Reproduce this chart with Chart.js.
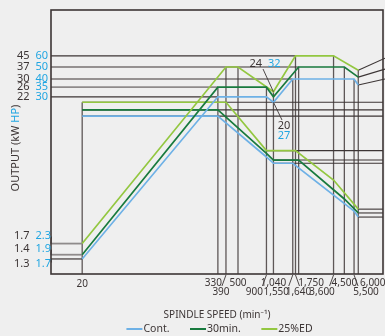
<!DOCTYPE html>
<html>
<head>
<meta charset="utf-8">
<script src="https://cdn.jsdelivr.net/npm/chart.js@4.4.1/dist/chart.umd.min.js"></script>
<style>
  html, body { margin: 0; padding: 0; background: #efefef; }
  #wrap { width: 385px; height: 336px; }
</style>
</head>
<body>
<div id="wrap"><canvas id="spindleChart"></canvas></div>
<script>
/* spindle output chart - log speed vs log output */

// rising curves: speed (min-1) / output (kW)
const contSpeed  = [20, 330, 900, 1040, 1550, 5500, 6000];
const contPower  = [1.3, 22, 22, 20, 30, 30, 27];
const min30Speed = [20, 330, 900, 1040, 1750, 4500, 6000];
const min30Power = [1.4, 26, 26, 22, 37, 37, 31];
const edSpeed    = [20, 390, 500, 1040, 1640, 3600, 6000];
const edPower    = [1.7, 37, 37, 24, 45, 45, 35];

// falling curves (torque side), read on the same output axis
const contTqSpeed  = [20, 330, 900, 1040, 1550, 5500, 6000];
const contTq       = [15.7, 15.7, 7.7, 6.9, 6.9, 3.0, 2.7];
const min30TqSpeed = [20, 330, 900, 1040, 1750, 4500, 6000];
const min30Tq      = [17.5, 17.5, 8.2, 7.3, 7.3, 3.7, 2.9];
const edTqSpeed    = [20, 390, 900, 1640, 3600, 6000];
const edTq         = [20, 20, 8.6, 8.6, 5.15, 3.1];

// axis labels
const kwTicks = [45, 37, 30, 26, 22, 1.7, 1.4, 1.3];
const hpTicks = [60, 50, 40, 35, 30, 2.3, 1.9, 1.7];
const kwGuideEnd = [1640, 1750, 1550, 330, 330, 20, 20, 20];   // speed where each level line stops
const speedTicks = [20, 330, 390, 500, 900, 1040, 1550, 1640, 1750, 3600, 4500, 5500, 6000];
const speedLabels = ['20', '330', '390', '500', '900', '1,040', '1,550', '1,640', '1,750', '3,600', '4,500', '5,500', '6,000'];
const dipNote = [24, 32];   // kW / HP at 1,040
const lowNote = [20, 27];

// layout only
const speedRow = [0, 0, 1, 0, 1, 0, 1, 1, 0, 1, 0, 1, 0];
const speedDx  = [0, -4.5, -5, 0, -12, 0, -16.5, 3, 12.5, -11.5, 0, 12, 14.5];
const lowLabelDy = [-8, -6, 4.5];

const BLUE = '#6eb1e6', DARK = '#187a3e', LIGHT = '#93c740';
const INK = '#3c3535', CYAN = '#21a6e2', GUIDE = '#5e5757', GREY = '#8f8b8b';
const FONT = '"Liberation Sans Narrow", "Noto Sans", sans-serif';

function pts(xs, ys) {
    return xs.map((x, i) => ({ x: x, y: ys[i] }));
}

function seg(ctx, x1, y1, x2, y2) {
    ctx.beginPath();
    ctx.moveTo(x1, y1);
    ctx.lineTo(x2, y2);
    ctx.stroke();
}

// two numbers side by side, returns right end of the blue one
function pair(ctx, a, b, xMid, y) {
    ctx.textAlign = 'right';
    ctx.fillStyle = INK;
    ctx.fillText(a, xMid - 3, y);
    ctx.textAlign = 'left';
    ctx.fillStyle = CYAN;
    ctx.fillText(b, xMid + 3, y);
    return xMid + 3 + ctx.measureText(b).width;
}

const guides = {
    id: 'guides',
    beforeDatasetsDraw(chart) {
        const { ctx, chartArea: a } = chart;
        const x = chart.scales.x, y = chart.scales.y;
        ctx.save();
        ctx.lineCap = 'butt';

        const all = chart.data.datasets.flatMap(d => d.data);

        // vertical lines from the axis up to the highest corner at that speed
        ctx.strokeStyle = GUIDE;
        ctx.lineWidth = 1.3;
        speedTicks.forEach(s => {
            const top = Math.max(...all.filter(p => p.x === s).map(p => p.y));
            const px = x.getPixelForValue(s);
            seg(ctx, px, a.bottom, px, y.getPixelForValue(top));
        });

        // output levels from the left axis
        kwTicks.forEach((v, i) => {
            const soft = (v === 26 || v === 1.7 || v === 1.4);
            ctx.strokeStyle = soft ? GREY : INK;
            ctx.lineWidth = soft ? 1.8 : 1.2;
            const py = y.getPixelForValue(v);
            seg(ctx, a.left, py, x.getPixelForValue(kwGuideEnd[i]), py);
        });

        // torque plateaus and ends carried across to the right axis
        ctx.strokeStyle = INK;
        ctx.lineWidth = 1.1;
        chart.data.datasets.filter(d => d.torque).forEach(d => {
            const pt = d.data;
            for (let i = 0; i < pt.length - 1; i++) {
                if (pt[i].y === pt[i + 1].y && (i === 0 || pt[i - 1].y !== pt[i].y)) {
                    const py = y.getPixelForValue(pt[i].y);
                    seg(ctx, x.getPixelForValue(pt[i].x), py, a.right, py);
                }
            }
            const last = pt[pt.length - 1];
            const ly = y.getPixelForValue(last.y);
            seg(ctx, x.getPixelForValue(last.x), ly, a.right, ly);
        });

        // leaders from the power curve ends to the right side
        const rise = { 'Cont.': -6, '30min.': -8, '25%ED': -12 };
        chart.data.datasets.filter(d => !d.torque).forEach(d => {
            const last = d.data[d.data.length - 1];
            const px = x.getPixelForValue(last.x), py = y.getPixelForValue(last.y);
            seg(ctx, px, py, a.right + 2, py + rise[d.label]);
        });

        // frame
        ctx.strokeStyle = INK;
        ctx.lineWidth = 1.6;
        ctx.strokeRect(a.left, a.top, a.right - a.left, a.bottom - a.top);
        ctx.restore();
    },
    afterDraw(chart) {
        const { ctx, chartArea: a } = chart;
        const x = chart.scales.x, y = chart.scales.y;
        ctx.save();
        ctx.font = '11px ' + FONT;
        ctx.textBaseline = 'middle';
        ctx.strokeStyle = INK;
        ctx.lineWidth = 0.9;

        // left axis numbers: kW dark, HP blue
        kwTicks.forEach((v, i) => {
            const py = y.getPixelForValue(v);
            const ty = i < 5 ? py : py + lowLabelDy[i - 5];
            const end = pair(ctx, String(v), String(hpTicks[i]), 32.5, ty);
            if (i >= 5) {
                ctx.strokeStyle = INK;
                seg(ctx, end + 0.5, ty + (ty < py ? 1 : -1), a.left, py);
            }
        });

        // speed labels in two rows with small leaders
        ctx.textAlign = 'center';
        ctx.fillStyle = INK;
        ctx.font = '10px ' + FONT;
        speedTicks.forEach((s, i) => {
            const px = x.getPixelForValue(s);
            const ty = a.bottom + (s === 20 ? 10 : (speedRow[i] ? 18 : 9.5));
            ctx.fillText(speedLabels[i], px + speedDx[i], ty);
            if (speedRow[i]) {
                const lx = px + Math.sign(speedDx[i]) * 4;
                seg(ctx, px, a.bottom + 1, lx, a.bottom + 12);
            }
        });

        // notes at the 1,040 dip
        ctx.font = '11px ' + FONT;
        const dx = x.getPixelForValue(1040);
        pair(ctx, String(dipNote[0]), String(dipNote[1]), 265, 63.5);
        seg(ctx, 263, 69, dx, y.getPixelForValue(edPower[3]));
        ctx.textAlign = 'center';
        ctx.fillStyle = INK;
        ctx.fillText(String(lowNote[0]), 284, 126);
        ctx.fillStyle = CYAN;
        ctx.fillText(String(lowNote[1]), 284, 136);
        seg(ctx, dx, y.getPixelForValue(contPower[3]), 282, 120);

        // axis titles
        ctx.font = '10px ' + FONT;
        ctx.fillStyle = INK;
        ctx.textAlign = 'center';
        ctx.fillText('SPINDLE SPEED (min\u207B\u00B9)', (a.left + a.right) / 2, 315);

        ctx.save();
        ctx.font = '11px ' + FONT;
        ctx.translate(16, (a.top + a.bottom) / 2 + 6);
        ctx.rotate(-Math.PI / 2);
        const parts = [['OUTPUT (kW ', INK], ['HP', CYAN], [')', INK]];
        const total = parts.reduce((w, p) => w + ctx.measureText(p[0]).width, 0);
        let cx = -total / 2;
        ctx.textAlign = 'left';
        parts.forEach(p => {
            ctx.fillStyle = p[1];
            ctx.fillText(p[0], cx, 0);
            cx += ctx.measureText(p[0]).width;
        });
        ctx.restore();

        // legend
        ctx.font = '10.5px ' + FONT;
        const items = chart.data.datasets.filter(d => !d.torque);
        const gap = 19.5, lineW = 16;
        const widths = items.map(d => lineW + 2 + ctx.measureText(d.label).width);
        let lx = (a.left + a.right) / 2 + 3 - (widths.reduce((s, w) => s + w, 0) + gap * (items.length - 1)) / 2;
        const ly = 329;
        items.forEach((d, i) => {
            ctx.strokeStyle = d.borderColor;
            ctx.lineWidth = 2;
            seg(ctx, lx, ly, lx + lineW, ly);
            ctx.fillStyle = INK;
            ctx.textAlign = 'left';
            ctx.fillText(d.label, lx + lineW + 1, ly);
            lx += widths[i] + gap;
        });
        ctx.restore();
    }
};

const CHART = document.getElementById('spindleChart');
const spindleChart = new Chart(CHART, {
    type: 'line',
    data: {
        datasets: [
            { label: 'Cont.',  data: pts(contSpeed, contPower),   borderColor: BLUE },
            { label: '30min.', data: pts(min30Speed, min30Power), borderColor: DARK },
            { label: '25%ED',  data: pts(edSpeed, edPower),       borderColor: LIGHT },
            { label: 'Cont. T',  torque: true, data: pts(contTqSpeed, contTq),   borderColor: BLUE },
            { label: '30min. T', torque: true, data: pts(min30TqSpeed, min30Tq), borderColor: DARK },
            { label: '25%ED T',  torque: true, data: pts(edTqSpeed, edTq),       borderColor: LIGHT }
        ]
    },
    options: {
        responsive: true,
        maintainAspectRatio: false,
        animation: false,
        layout: { padding: { left: 51, top: 10, right: 2, bottom: 62 } },
        elements: {
            line: { borderWidth: 1.7, tension: 0, fill: false },
            point: { radius: 0 }
        },
        scales: {
            x: { type: 'logarithmic', min: 10.5, max: 10000, display: false },
            y: { type: 'logarithmic', min: 1, max: 100, display: false }
        },
        plugins: {
            legend: { display: false },
            tooltip: { enabled: false }
        }
    },
    plugins: [guides]
});
</script>
</body>
</html>
